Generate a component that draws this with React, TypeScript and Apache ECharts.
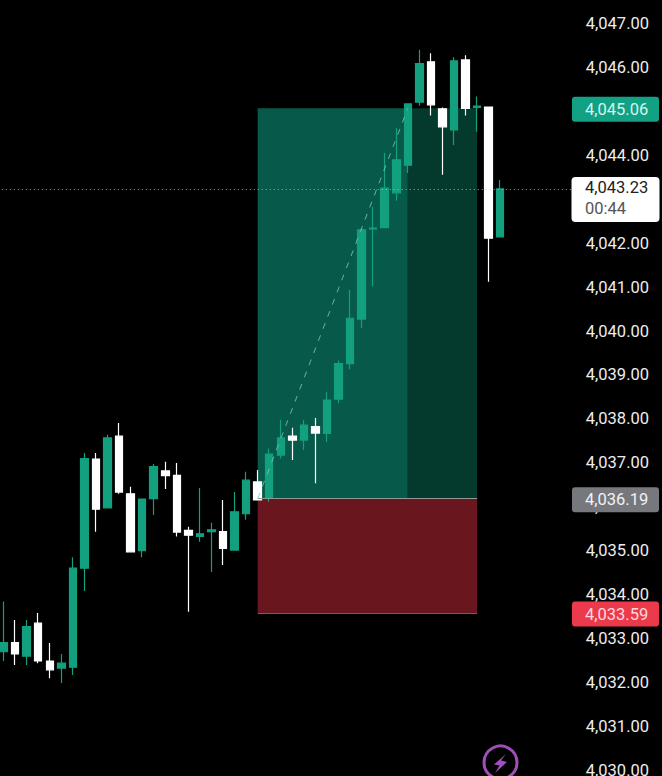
import React, { useEffect, useRef } from "react";
import * as echarts from "echarts";

const candleOpen = [4032.71,4032.92,4032.61,4033.36,4032.50,4032.34,4032.36,4034.61,4037.09,4035.98,4037.61,4036.30,4035.01,4036.19,4036.82,4036.72,4035.47,4035.33,4035.44,4035.44,4035.02,4035.85,4036.57,4036.20,4037.18,4037.61,4037.52,4037.83,4037.67,4038.45,4039.26,4040.27,4042.32,4042.35,4043.14,4043.77,4045.20,4046.12,4045.05,4044.57,4046.16,4045.08,4045.09,4042.14];
const candleClose = [4032.92,4032.66,4033.28,4032.50,4032.30,4032.45,4034.61,4037.10,4035.95,4037.57,4036.34,4034.98,4036.18,4036.92,4036.71,4035.43,4035.36,4035.39,4035.48,4035.06,4035.89,4036.61,4036.16,4037.20,4037.57,4037.52,4037.86,4037.68,4038.43,4039.26,4040.29,4042.30,4042.34,4043.25,4043.89,4045.16,4046.08,4045.14,4044.64,4046.14,4045.06,4045.11,4042.11,4043.23];
const candleLow = [4032.50,4032.41,4032.41,4032.45,4032.11,4032.00,4032.18,4034.09,4035.44,4035.98,4036.30,4034.98,4034.86,4035.82,4036.41,4035.33,4033.62,4035.21,4034.52,4034.68,4035.02,4035.71,4036.16,4036.12,4037.10,4037.07,4037.30,4036.54,4037.48,4038.36,4039.13,4040.07,4041.01,4042.35,4042.96,4043.59,4045.12,4044.90,4043.55,4044.23,4044.90,4044.53,4041.12,4042.14];
const candleHigh = [4033.85,4033.43,4033.43,4033.59,4032.91,4032.66,4034.86,4037.23,4037.23,4037.64,4037.91,4036.46,4036.18,4036.98,4037.03,4037.00,4035.55,4036.43,4035.64,4036.16,4036.34,4036.80,4036.84,4037.33,4037.98,4037.80,4037.98,4038.02,4038.61,4039.33,4040.93,4042.34,4042.82,4044.05,4044.61,4045.16,4046.39,4046.31,4045.08,4046.22,4046.27,4045.33,4045.09,4043.43];
const blankSlots = 6;
const categories = Array.from({ length: candleOpen.length + blankSlots }, (_, i) => String(i + 1));
const tickValues = [4030,4031,4032,4033,4034,4035,4036,4037,4038,4039,4040,4041,4042,4043,4044,4045,4046,4047];

const targetPrice = 4045.06;
const entryPrice = 4036.19;
const stopPrice = 4033.59;
const lastPrice = 4043.23;
const countdown = "00:44";
const zoneStart = 22;
const zoneSplit = 35;
const zoneEnd = 41;

const fmt = (v: number) => v.toLocaleString("en-US", { minimumFractionDigits: 2, maximumFractionDigits: 2 });
const FONT = "Roboto";
const SIZE = 16.5;

export default function App() {
  const ref = useRef<HTMLDivElement>(null);
  useEffect(() => {
    document.body.style.margin = "0";
    document.body.style.background = "#000";
    const chart = echarts.init(ref.current!, undefined, { renderer: "svg" });
    chart.setOption({
      animation: false,
      backgroundColor: "#000",
      grid: { left: -2.2, top: 0, width: 577.5, height: 776, outerBoundsMode: "none" },
      xAxis: { type: "category", data: categories, show: false, boundaryGap: true },
      yAxis: {
        type: "value",
        position: "right",
        min: 4029.886,
        max: 4047.523,
        axisLine: { show: false },
        axisTick: { show: false },
        splitLine: { show: false },
        axisLabel: {
          customValues: tickValues,
          formatter: (v: number) => fmt(v),
          color: "#ededed",
          fontFamily: FONT,
          fontSize: SIZE,
          margin: 10.5,
          padding: [0, 0, 2, 0],
        },
      },
      series: [
        {
          type: "candlestick",
          barWidth: 8,
          data: candleOpen.map((o, i) => [o, candleClose[i], candleLow[i], candleHigh[i]]),
          itemStyle: { color: "#12a07f", borderColor: "#12a07f", color0: "#ffffff", borderColor0: "#ffffff", borderWidth: 1.2 },
          markArea: {
            silent: true,
            data: [
              [{ coord: [zoneStart, targetPrice], itemStyle: { color: "#075a49" } }, { coord: [zoneSplit, entryPrice] }],
              [{ coord: [zoneSplit, targetPrice], itemStyle: { color: "#04392e" } }, { coord: [zoneEnd, entryPrice] }],
              [{ coord: [zoneStart, entryPrice], itemStyle: { color: "#6a161f" } }, { coord: [zoneEnd, stopPrice] }],
            ],
          },
          markLine: {
            silent: true,
            symbol: "none",
            label: { show: false },
            data: [
              { yAxis: lastPrice, lineStyle: { color: "#b9c4c0", type: [1, 3], width: 1, opacity: 0.8 } },
              [{ coord: [zoneStart, entryPrice], lineStyle: { color: "#8f9a97", type: "solid", width: 1.2 } }, { coord: [zoneEnd, entryPrice] }],
              [{ coord: [zoneStart, stopPrice], lineStyle: { color: "#6f5f60", type: "solid", width: 1 } }, { coord: [zoneEnd, stopPrice] }],
              [{ coord: [zoneStart, entryPrice], lineStyle: { color: "#7fc9b5", type: [6, 7], width: 1, opacity: 0.8 } }, { coord: [zoneSplit, targetPrice] }],
            ],
          },
        },
      ],
    });

    const py = (v: number) => chart.convertToPixel({ yAxisIndex: 0 }, v) as number;
    const tag = (value: number, bg: string, fg: string) => [
      { type: "rect", z: 20, shape: { x: 572, y: py(value) - 11.5, width: 87, height: 25, r: 3 }, style: { fill: bg } },
      { type: "text", z: 21, x: 585, y: py(value) + 1, style: { text: fmt(value), fill: fg, font: `${SIZE}px ${FONT}`, verticalAlign: "middle" } },
    ];
    chart.setOption({
      graphic: [
        ...tag(targetPrice, "#12a184", "#d6f5ec"),
        ...tag(entryPrice, "#77787d", "#f2f2f2"),
        ...tag(stopPrice, "#ec3a4d", "#ffd9dc"),
        { type: "rect", z: 20, shape: { x: 571.5, y: py(lastPrice) - 12, width: 88, height: 45, r: 4 }, style: { fill: "#ffffff" } },
        { type: "text", z: 21, x: 585, y: py(lastPrice) - 1, style: { text: fmt(lastPrice), fill: "#222222", font: `${SIZE}px ${FONT}`, verticalAlign: "middle" } },
        { type: "text", z: 21, x: 585, y: py(lastPrice) + 20, style: { text: countdown, fill: "#555555", font: `${SIZE}px ${FONT}`, verticalAlign: "middle" } },
        { type: "circle", z: 22, shape: { cx: 500.5, cy: 762.5, r: 16.5 }, style: { fill: "none", stroke: "#a04fb8", lineWidth: 3 } },
        { type: "polygon", z: 22, shape: { points: [[506, 754], [494, 764.5], [499.5, 765.5], [495, 773], [507, 762], [501, 760.5]] }, style: { fill: "#a04fc0" } },
      ],
    });
    return () => chart.dispose();
  }, []);
  return <div ref={ref} style={{ width: 662, height: 776 }} />;
}
